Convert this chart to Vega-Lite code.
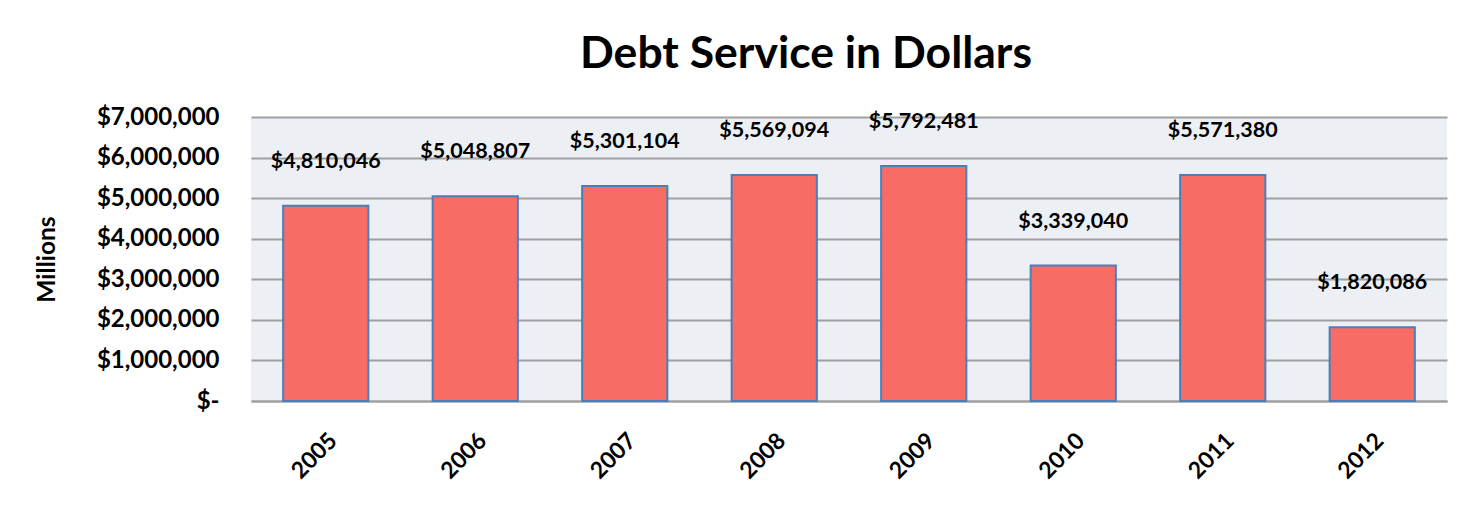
{
  "$schema": "https://vega.github.io/schema/vega-lite/v6.json",
  "autosize": "none",
  "width": 1196,
  "height": 284,
  "padding": {"left": 251, "top": 117, "right": 16, "bottom": 113},
  "background": "white",
  "title": {
    "text": "Debt Service in Dollars",
    "font": "Lato",
    "fontSize": 44.5,
    "fontWeight": "bold",
    "color": "#000000",
    "anchor": "middle",
    "frame": "group",
    "dx": -43,
    "baseline": "alphabetic",
    "offset": -7
  },
  "config": {
    "view": {"fill": "#ECEFF4", "stroke": null},
    "font": "Lato"
  },
  "data": {
    "values": [
      {"year": "2005", "amount": 4810046},
      {"year": "2006", "amount": 5048807},
      {"year": "2007", "amount": 5301104},
      {"year": "2008", "amount": 5569094},
      {"year": "2009", "amount": 5792481},
      {"year": "2010", "amount": 3339040},
      {"year": "2011", "amount": 5571380},
      {"year": "2012", "amount": 1820086}
    ]
  },
  "encoding": {
    "x": {
      "field": "year",
      "type": "ordinal",
      "scale": {"paddingInner": 0.43, "paddingOuter": 0.215},
      "axis": {
        "title": null,
        "labelAngle": -45,
        "labelFont": "Lato",
        "labelFontSize": 23,
        "labelFontWeight": "bold",
        "labelColor": "#000000",
        "labelPadding": 28,
        "ticks": false,
        "domain": true,
        "domainColor": "#A0A0A0",
        "domainWidth": 2,
        "grid": false
      }
    },
    "y": {
      "field": "amount",
      "type": "quantitative",
      "scale": {"domain": [0, 7000000]},
      "axis": {
        "title": "Millions",
        "titleFont": "Lato",
        "titleFontSize": 24.5,
        "titleFontWeight": "bold",
        "titleColor": "#000000",
        "titleAngle": -90,
        "titleX": -204,
        "titleY": 142,
        "titleAlign": "center",
        "titleBaseline": "middle",
        "values": [0, 1000000, 2000000, 3000000, 4000000, 5000000, 6000000, 7000000],
        "labelExpr": "datum.value == 0 ? '$-\u00a0\u00a0\u00a0\u00a0' : '$' + format(datum.value, ',')",
        "labelFont": "Lato",
        "labelFontSize": 24,
        "labelFontWeight": "bold",
        "labelColor": "#000000",
        "labelPadding": 32,
        "ticks": false,
        "domain": false,
        "grid": true,
        "gridColor": "#A0A0A0",
        "gridWidth": 2
      }
    }
  },
  "layer": [
    {
      "mark": {"type": "bar", "fill": "#F76C65", "stroke": "#4A7EBB", "strokeWidth": 2}
    },
    {
      "mark": {"type": "text", "font": "Lato", "fontSize": 21.5, "fontWeight": "bold", "color": "#000000", "baseline": "middle", "dy": -44},
      "encoding": {
        "text": {"field": "amount", "type": "quantitative", "format": "$,"}
      }
    }
  ]
}
